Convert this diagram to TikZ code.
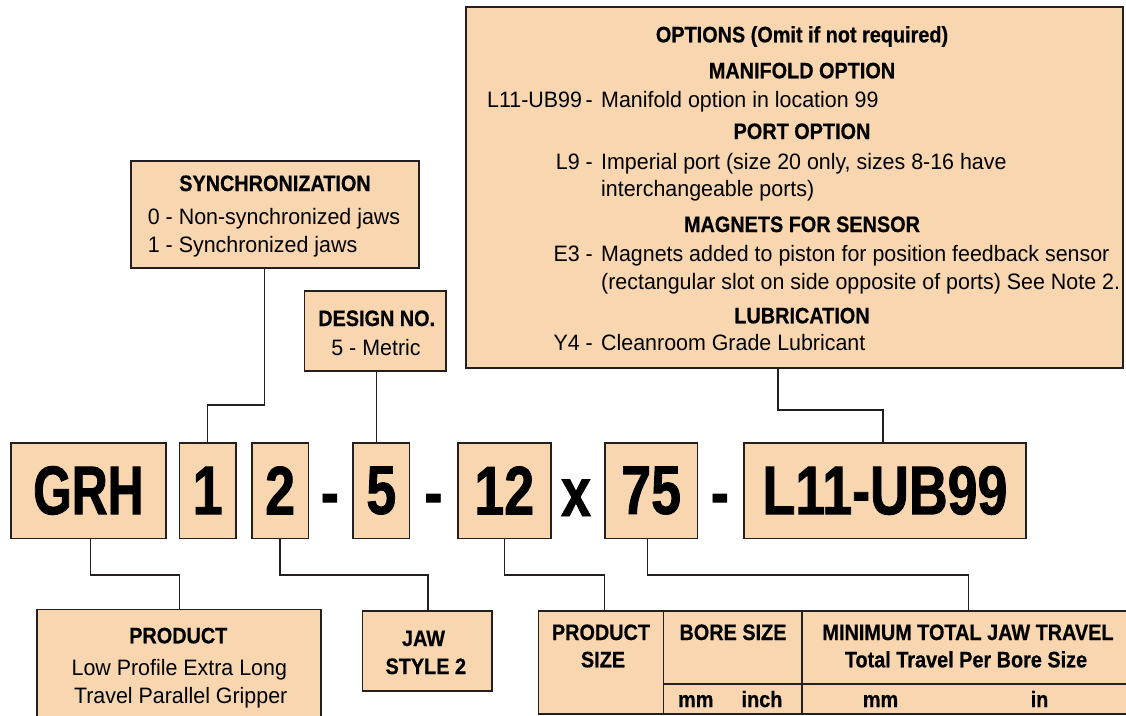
\documentclass[tikz,border=0pt]{standalone}
\usepackage{fontspec}
\setmainfont{Liberation Sans}[FakeStretch=0.96]
\newfontfamily\hdf{Liberation Sans}[FakeStretch=0.89, BoldFeatures={FakeBold=0.6}]
\newfontfamily\bigf{Liberation Sans}[FakeStretch=0.78, BoldFeatures={FakeBold=1.2}]
\newfontfamily\grhf{Liberation Sans}[FakeStretch=0.72, BoldFeatures={FakeBold=1.2}]
\definecolor{peach}{HTML}{F7D6B0}
\definecolor{ink}{HTML}{231F20}
\begin{document}
\begin{tikzpicture}[x=1pt,y=-1pt,
  box/.style={draw=ink, line width=1.6pt, fill=peach, inner sep=0pt, outer sep=0pt},
  conn/.style={draw=ink, line width=1.4pt},
  txt/.style={inner sep=0pt, anchor=base, text=black, font=\fontsize{22.3}{26}\selectfont},
  txtl/.style={txt, anchor=base west},
  txtr/.style={txt, anchor=base east},
  hd/.style={inner sep=0pt, anchor=base, text=black, font=\hdf\bfseries\fontsize{22.3}{26}\selectfont},
  bigt/.style={font=\bigf\bfseries\fontsize{68.9}{70}\selectfont},
  sep/.style={inner sep=0pt, anchor=base, text=black, font=\bigf\bfseries\fontsize{68.9}{70}\selectfont},
]
\fill[white] (0,0) rectangle (1126,715);
\useasboundingbox (0,0) rectangle (1126,715);

% ---------- options box ----------
\node[box, minimum width=657pt, minimum height=361pt] (opt) at (794.5,187.5) {};
\node[hd] (optt) at (802,42.3) {OPTIONS (Omit if not required)};
\node[hd] (manh) at (802,78.3) {MANIFOLD OPTION};
\node[txtr] (manl) at (593,107.7) {L11-UB99\,-};
\node[txtl] (mand) at (601,107.7) {Manifold option in location 99};
\node[hd] (porth) at (802,139) {PORT OPTION};
\node[txtr] (portl) at (593,169) {L9 -};
\node[txtl] (portd) at (601,169) {Imperial port (size 20 only, sizes 8-16 have};
\node[txtl] (portd2) at (601,196.5) {interchangeable ports)};
\node[hd] (magh) at (802,232) {MAGNETS FOR SENSOR};
\node[txtr] (magl) at (593,261.7) {E3 -};
\node[txtl] (magd) at (601,261.7) {Magnets added to piston for position feedback sensor};
\node[txtl] (magd2) at (601,289) {(rectangular slot on side opposite of ports) See Note 2.};
\node[hd] (lubh) at (802,323.3) {LUBRICATION};
\node[txtr] (lubl) at (593,350.7) {Y4 -};
\node[txtl] (lubd) at (601,350.7) {Cleanroom Grade Lubricant};

% ---------- synchronization ----------
\node[box, minimum width=288pt, minimum height=107pt] (sync) at (275,214.5) {};
\node[hd] (synch) at (275,191) {SYNCHRONIZATION};
\node[txtl] (sync0) at (147.7,224) {0 - Non-synchronized jaws};
\node[txtl] (sync1) at (147.7,252) {1 - Synchronized jaws};

% ---------- design ----------
\node[box, minimum width=141.4pt, minimum height=80pt] (design) at (375,331) {};
\node[hd] (desh) at (376.7,326) {DESIGN NO.};
\node[txt] (desd) at (376,355.7) {5 - Metric};

% ---------- main code row ----------
\node[box, minimum width=155.3pt, minimum height=95.6pt, font=\grhf\bfseries\fontsize{68.9}{70}\selectfont] (grh) at (88.35,490.5) {GRH};
\node[box, bigt, minimum width=56.7pt, minimum height=95.6pt] (one) at (207.65,490.5) {1};
\node[box, bigt, minimum width=56.8pt, minimum height=95.6pt] (two) at (280.1,490.5) {2};
\node[sep] (d1) at (329.8,516) {-};
\node[box, bigt, minimum width=56.7pt, minimum height=95.6pt] (five) at (381.25,490.5) {5};
\node[sep] (d2) at (433.5,516) {-};
\node[box, bigt, minimum width=92.8pt, minimum height=95.6pt] (twelve) at (504.3,490.5) {12};
\node[sep] (xx) at (576,516) {x};
\node[box, bigt, minimum width=92.7pt, minimum height=95.6pt] (sevfive) at (651.15,490.5) {75};
\node[sep] (d3) at (719.8,516) {-};
\node[box, bigt, minimum width=282pt, minimum height=95.6pt] (lub) at (885,490.5) {L11-UB99};

% ---------- bottom boxes ----------
\node[box, minimum width=283.7pt, minimum height=130.7pt] (prod) at (178.85,674.65) {};
\node[hd] (prodh) at (178.3,643.3) {PRODUCT};
\node[txt] (prod1) at (179.3,675) {Low Profile Extra Long};
\node[txt] (prod2) at (180.7,703.3) {Travel Parallel Gripper};

\node[box, minimum width=129.4pt, minimum height=80pt] (jaw) at (427,650.7) {};
\node[hd] (jaw1) at (423.5,646) {JAW};
\node[hd] (jaw2) at (425.8,674) {STYLE 2};

\node[box, minimum width=124.8pt, minimum height=103pt] (psize) at (601,662.5) {};
\node[box, minimum width=138.8pt, minimum height=73pt] (bore) at (732.8,647.5) {};
\node[box, minimum width=138.8pt, minimum height=30pt] (boreu) at (732.8,699) {};
\node[box, minimum width=332.8pt, minimum height=73pt] (trav) at (968.6,647.5) {};
\node[box, minimum width=332.8pt, minimum height=30pt] (travu) at (968.6,699) {};
\node[hd] (ps1) at (601,640) {PRODUCT};
\node[hd] (ps2) at (603,667.3) {SIZE};
\node[hd] (bs) at (733,640) {BORE SIZE};
\node[hd] (bmm) at (695.8,707) {mm};
\node[hd] (binch) at (762,707) {inch};
\node[hd] (tr1) at (968,640) {MINIMUM TOTAL JAW TRAVEL};
\node[hd] (tr2) at (966,667.3) {Total Travel Per Bore Size};
\node[hd] (tmm) at (880.5,707) {mm};
\node[hd] (tin) at (1039.5,707) {in};

% ---------- connectors ----------
\draw[conn] ([xshift=-10.7pt]sync.south) |- ([yshift=37.7pt]one.north) -- (one.north);
\draw[conn] ([xshift=1.7pt]design.south) -- ([xshift=1.7pt]design.south |- five.north);
\draw[conn] ([xshift=-16.5pt]opt.south) |- ([xshift=-2pt,yshift=32.7pt]lub.north) -- ([xshift=-2pt]lub.north);
\draw[conn] ([xshift=2pt]grh.south) -- ++(0,36.7) -| ([xshift=0.7pt]prod.north);
\draw[conn] (two.south) -- ++(0,36.7) -| ([xshift=1pt]jaw.north);
\draw[conn] (twelve.south) -- ++(0,36.7) -| ([xshift=3.3pt]psize.north);
\draw[conn] ([xshift=-3.5pt]sevfive.south) -- ++(0,36.7) -| (trav.north);
\end{tikzpicture}
\end{document}
